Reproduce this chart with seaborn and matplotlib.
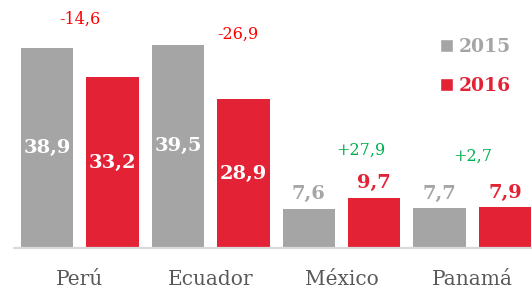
"""
Grouped bar chart: 2015 vs 2016 values by country.
"""

import matplotlib
matplotlib.use("Agg")
import matplotlib.pyplot as plt
import pandas as pd
import seaborn as sns
from matplotlib.patches import Patch

countries = ["Perú", "Ecuador", "México", "Panamá"]
years = ["2015", "2016"]
values_2015 = [38.9, 39.5, 7.6, 7.7]
values_2016 = [33.2, 28.9, 9.7, 7.9]
changes = ["-14,6", "-26,9", "+27,9", "+2,7"]

GRAY = "#A5A5A5"
RED = "#E32236"
TEXT = "#595959"


def fmt(v):
    return f"{v:.1f}".replace(".", ",")


df = pd.DataFrame({
    "country": countries * 2,
    "year": [years[0]] * 4 + [years[1]] * 4,
    "value": values_2015 + values_2016,
})

sns.set_style("white")
plt.rcParams["font.family"] = ["DejaVu Serif", "DejaVu Sans"]

fig = plt.figure(figsize=(5.32, 2.91), dpi=100)
ax = fig.add_axes([0, 43.3 / 291, 1, 247.7 / 291])

sns.barplot(
    data=df, x="country", y="value", hue="year",
    palette=[GRAY, RED], saturation=1, width=1.0, gap=0.2,
    linewidth=0, legend=False, ax=ax,
)

ax.set_xlim(-0.611, 3.456)
ax.set_ylim(0, 48.3)
sns.despine(ax=ax, left=True, bottom=True)
ax.set_yticks([])
ax.set_xlabel("")
ax.set_ylabel("")
ax.axhline(0, xmin=14 / 532, xmax=1, color="#D9D9D9", lw=1.6, clip_on=False)
ax.tick_params(axis="x", length=0, pad=16, labelsize=14.5, labelcolor=TEXT)

# value labels: centred white inside tall bars, coloured above short bars
for container, vals, col in zip(ax.containers, [values_2015, values_2016], [GRAY, RED]):
    inside = [fmt(v) if v > 20 else "" for v in vals]
    outside = [fmt(v) if v <= 20 else "" for v in vals]
    ax.bar_label(container, labels=inside, label_type="center",
                 color="white", fontsize=14, fontweight="bold")
    ax.bar_label(container, labels=outside, label_type="edge", padding=4,
                 color=col, fontsize=14, fontweight="bold")

# change annotations
change_pos = [(0.0, 44.6), (1.21, 41.7), (2.15, 19.0), (3.0, 17.9)]
for (x, y), txt in zip(change_pos, changes):
    c = "#FF0000" if txt.startswith("-") else "#00B050"
    ax.text(x, y, txt, ha="center", va="center", color=c, fontsize=11.5)

handles = [Patch(facecolor=GRAY), Patch(facecolor=RED)]
ax.legend(
    handles, years, loc="upper right", bbox_to_anchor=(0.985, 0.90),
    frameon=False, handlelength=0.7, handleheight=0.7, handletextpad=0.3,
    labelspacing=1.15, labelcolor=[GRAY, RED], borderpad=0.2,
    prop={"size": 13.5, "weight": "bold"},
)

fig.savefig("out.png", dpi=100)
plt.close(fig)
